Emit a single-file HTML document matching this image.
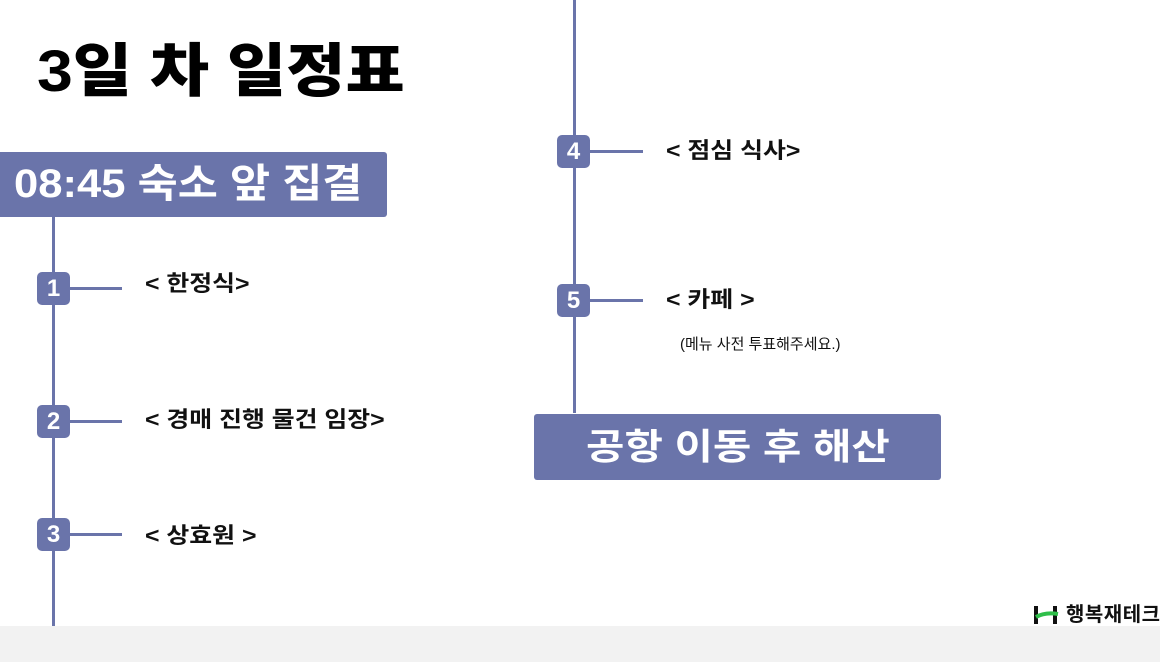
<!DOCTYPE html>
<html><head><meta charset="utf-8"><style>
body{margin:0;width:1160px;height:662px;position:relative;background:#fff;overflow:hidden;font-family:"Liberation Sans","Noto Sans CJK KR",sans-serif;}
.a{position:absolute}
.v{position:absolute;background:#6a74aa;width:3px}
.h{position:absolute;background:#6a74aa;height:3px}
.b{position:absolute;width:33px;height:33px;background:#6a74aa;border-radius:5px;color:#fff;font-weight:bold;font-size:24px;line-height:33px;text-align:center}
.l{position:absolute;font-weight:bold;font-size:22px;color:#111;white-space:nowrap;line-height:24px;transform:scaleX(1.13);transform-origin:left}
</style></head><body>
<div class="a" style="left:0;top:626px;width:1160px;height:36px;background:#f2f2f2"></div>
<div class="a" style="left:37px;top:36px;font-size:58px;font-weight:900;color:#000;line-height:72px;white-space:nowrap;transform:scaleX(1.11);transform-origin:left">3일 차 일정표</div>
<div class="a" style="left:0;top:152px;width:387px;height:65px;background:#6a74aa;border-radius:0 3px 3px 0"></div>
<div class="a" style="left:14px;top:152px;height:65px;line-height:65px;font-size:40px;font-weight:bold;color:#fff;white-space:nowrap;transform:scaleX(1.09);transform-origin:left">08:45 숙소 앞 집결</div>
<div class="v" style="left:52px;top:217px;height:409px"></div>
<div class="h" style="left:69px;top:287px;width:53px"></div>
<div class="h" style="left:69px;top:420px;width:53px"></div>
<div class="h" style="left:69px;top:533px;width:53px"></div>
<div class="b" style="left:37px;top:272px">1</div>
<div class="b" style="left:37px;top:405px">2</div>
<div class="b" style="left:37px;top:518px">3</div>
<div class="l" style="left:145px;top:272px">&lt; 한정식&gt;</div>
<div class="l" style="left:145px;top:408px">&lt; 경매 진행 물건 임장&gt;</div>
<div class="l" style="left:145px;top:524px">&lt; 상효원 &gt;</div>
<div class="v" style="left:573px;top:0;height:413px"></div>
<div class="h" style="left:590px;top:150px;width:53px"></div>
<div class="h" style="left:590px;top:299px;width:53px"></div>
<div class="b" style="left:557px;top:135px">4</div>
<div class="b" style="left:557px;top:284px">5</div>
<div class="l" style="left:666px;top:139px">&lt; 점심 식사&gt;</div>
<div class="l" style="left:666px;top:288px">&lt; 카페 &gt;</div>
<div class="a" style="left:680px;top:333px;font-size:15px;color:#111;white-space:nowrap">(메뉴 사전 투표해주세요.)</div>
<div class="a" style="left:534px;top:414px;width:407px;height:66px;background:#6a74aa;border-radius:3px;text-align:center"><span style="display:inline-block;color:#fff;font-weight:bold;font-size:36px;line-height:66px;transform:scaleX(1.16)">공항 이동 후 해산</span></div>
<svg class="a" style="left:1033px;top:604px" width="28" height="22"><rect x="1" y="2" width="4" height="18" fill="#111"/><rect x="20" y="2" width="4" height="18" fill="#111"/><path d="M3 13 Q12 8 25 10" stroke="#2fbf4a" stroke-width="4" fill="none"/></svg>
<div class="a" style="left:1066px;top:603px;font-size:20px;font-weight:bold;color:#111;white-space:nowrap;line-height:24px;letter-spacing:0.5px">행복재테크</div>
</body></html>
